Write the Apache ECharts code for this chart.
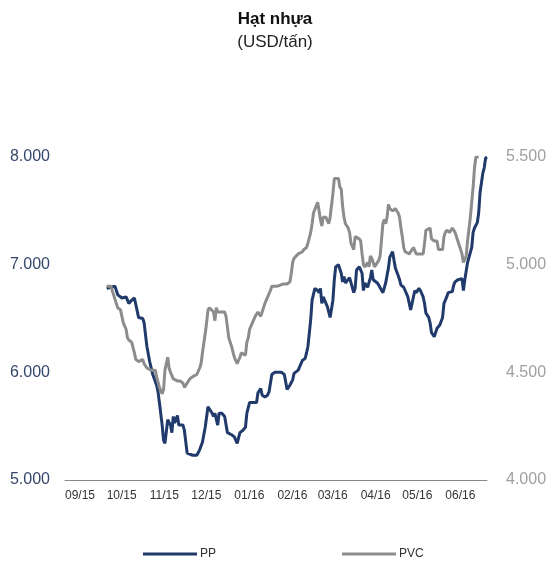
<!DOCTYPE html>
<html>
<head>
<meta charset="utf-8">
<script src="https://cdn.jsdelivr.net/npm/echarts@6/dist/echarts.min.js"></script>
<style>
html,body{margin:0;padding:0;background:#fff;}
#c{width:550px;height:565px;}
</style>
</head>
<body>
<div id="c"></div>
<script>
const titleText = 'Hạt nhựa';
const subText = '(USD/tấn)';
const seriesNames = ['PP', 'PVC'];
const leftTicks = [5000, 6000, 7000, 8000];
const rightTicks = [4000, 4500, 5000, 5500];
const axisStart = '2015-09-01';
const axisEnd = '2016-07-01';
const monthLabels = ['09/15','10/15','11/15','12/15','01/16','02/16','03/16','04/16','05/16','06/16'];

const ppDates = ['2015-10-01','2015-10-04','2015-10-07','2015-10-09','2015-10-12','2015-10-15','2015-10-17','2015-10-19','2015-10-21','2015-10-22','2015-10-24','2015-10-27','2015-10-28','2015-10-30','2015-11-01','2015-11-03','2015-11-06','2015-11-07','2015-11-08','2015-11-10','2015-11-11','2015-11-12','2015-11-14','2015-11-16','2015-11-17','2015-11-18','2015-11-19','2015-11-21','2015-11-22','2015-11-25','2015-11-26','2015-11-28','2015-12-02','2015-12-05','2015-12-07','2015-12-09','2015-12-11','2015-12-13','2015-12-16','2015-12-17','2015-12-18','2015-12-20','2015-12-21','2015-12-23','2015-12-25','2015-12-27','2015-12-30','2016-01-01','2016-01-03','2016-01-04','2016-01-05','2016-01-07','2016-01-09','2016-01-10','2016-01-12','2016-01-14','2016-01-17','2016-01-18','2016-01-20','2016-01-21','2016-01-23','2016-01-25','2016-01-26','2016-01-28','2016-01-30','2016-02-04','2016-02-06','2016-02-08','2016-02-10','2016-02-12','2016-02-13','2016-02-16','2016-02-17','2016-02-19','2016-02-21','2016-02-22','2016-02-23','2016-02-25','2016-02-26','2016-02-28','2016-03-01','2016-03-02','2016-03-03','2016-03-04','2016-03-05','2016-03-08','2016-03-10','2016-03-12','2016-03-13','2016-03-14','2016-03-16','2016-03-18','2016-03-19','2016-03-20','2016-03-21','2016-03-24','2016-03-27','2016-03-28','2016-03-29','2016-03-31','2016-04-01','2016-04-02','2016-04-03','2016-04-04','2016-04-06','2016-04-08','2016-04-09','2016-04-10','2016-04-13','2016-04-14','2016-04-17','2016-04-19','2016-04-21','2016-04-22','2016-04-24','2016-04-25','2016-04-26','2016-04-28','2016-04-29','2016-04-30','2016-05-02','2016-05-03','2016-05-05','2016-05-06','2016-05-07','2016-05-09','2016-05-10','2016-05-11','2016-05-13','2016-05-14','2016-05-15','2016-05-16','2016-05-17','2016-05-18','2016-05-20','2016-05-21','2016-05-22','2016-05-24','2016-05-25','2016-05-26','2016-05-28','2016-05-30','2016-05-31','2016-06-01','2016-06-02','2016-06-03','2016-06-06','2016-06-07','2016-06-08','2016-06-10','2016-06-13','2016-06-14','2016-06-15','2016-06-17','2016-06-20','2016-06-21','2016-06-22','2016-06-24','2016-06-25','2016-06-26','2016-06-28','2016-06-29','2016-06-30','2016-07-01'];
const ppValues = [6780,6790,6800,6720,6690,6700,6640,6670,6690,6630,6510,6500,6460,6240,6100,5990,5880,5820,5720,5510,5370,5340,5560,5510,5440,5590,5530,5600,5510,5510,5460,5250,5230,5230,5280,5350,5490,5680,5620,5590,5620,5510,5620,5620,5590,5440,5420,5400,5340,5330,5440,5460,5490,5620,5720,5720,5720,5810,5850,5790,5770,5790,5820,5980,6000,6000,5980,5840,5880,5930,5990,6020,6050,6110,6130,6180,6240,6490,6670,6780,6760,6740,6780,6640,6700,6610,6510,6670,6860,6980,7000,6920,6840,6890,6830,6880,6740,6780,6950,6980,6980,6920,6760,6830,6790,6880,6950,6860,6830,6810,6740,6830,6970,7070,7120,7040,6970,6900,6860,6810,6790,6760,6700,6640,6580,6700,6760,6740,6780,6760,6750,6700,6640,6550,6510,6460,6370,6330,6370,6410,6440,6510,6640,6650,6700,6740,6750,6810,6840,6860,6870,6760,6860,7020,7160,7300,7340,7390,7480,7670,7850,7900,7990,8000];

const pvcDates = ['2015-10-01','2015-10-04','2015-10-05','2015-10-08','2015-10-09','2015-10-11','2015-10-12','2015-10-13','2015-10-15','2015-10-16','2015-10-17','2015-10-19','2015-10-21','2015-10-22','2015-10-24','2015-10-27','2015-10-28','2015-10-30','2015-11-02','2015-11-05','2015-11-06','2015-11-08','2015-11-10','2015-11-11','2015-11-12','2015-11-14','2015-11-15','2015-11-16','2015-11-18','2015-11-21','2015-11-23','2015-11-25','2015-11-26','2015-11-28','2015-11-30','2015-12-02','2015-12-05','2015-12-07','2015-12-08','2015-12-09','2015-12-11','2015-12-12','2015-12-13','2015-12-14','2015-12-17','2015-12-18','2015-12-19','2015-12-20','2015-12-23','2015-12-25','2015-12-26','2015-12-27','2015-12-28','2015-12-30','2016-01-01','2016-01-03','2016-01-05','2016-01-06','2016-01-07','2016-01-09','2016-01-10','2016-01-11','2016-01-12','2016-01-14','2016-01-16','2016-01-18','2016-01-20','2016-01-21','2016-01-22','2016-01-23','2016-01-25','2016-01-27','2016-01-28','2016-02-01','2016-02-05','2016-02-06','2016-02-08','2016-02-10','2016-02-11','2016-02-12','2016-02-13','2016-02-16','2016-02-19','2016-02-20','2016-02-22','2016-02-23','2016-02-25','2016-02-26','2016-02-27','2016-03-01','2016-03-02','2016-03-03','2016-03-04','2016-03-05','2016-03-07','2016-03-08','2016-03-09','2016-03-10','2016-03-12','2016-03-13','2016-03-16','2016-03-17','2016-03-18','2016-03-19','2016-03-20','2016-03-21','2016-03-23','2016-03-24','2016-03-25','2016-03-27','2016-03-28','2016-03-31','2016-04-01','2016-04-02','2016-04-03','2016-04-04','2016-04-06','2016-04-07','2016-04-08','2016-04-09','2016-04-10','2016-04-11','2016-04-14','2016-04-15','2016-04-17','2016-04-18','2016-04-19','2016-04-20','2016-04-21','2016-04-22','2016-04-24','2016-04-26','2016-04-28','2016-04-29','2016-04-30','2016-05-01','2016-05-02','2016-05-03','2016-05-06','2016-05-09','2016-05-10','2016-05-11','2016-05-16','2016-05-17','2016-05-18','2016-05-21','2016-05-22','2016-05-24','2016-05-26','2016-05-27','2016-05-30','2016-05-31','2016-06-01','2016-06-02','2016-06-04','2016-06-06','2016-06-08','2016-06-10','2016-06-13','2016-06-14','2016-06-16','2016-06-17','2016-06-19','2016-06-21','2016-06-22','2016-06-23','2016-06-25'];
const pvcValues = [4900,4900,4880,4820,4800,4790,4760,4730,4700,4660,4650,4640,4590,4560,4550,4560,4540,4520,4510,4510,4480,4430,4400,4420,4510,4570,4520,4500,4470,4460,4460,4450,4430,4450,4470,4480,4490,4520,4540,4590,4680,4730,4790,4800,4780,4740,4800,4780,4780,4780,4760,4710,4660,4620,4570,4540,4570,4590,4590,4580,4640,4660,4700,4730,4760,4780,4760,4780,4800,4820,4850,4880,4900,4900,4910,4910,4910,4920,4960,5010,5030,5050,5060,5070,5080,5100,5150,5190,5240,5290,5250,5210,5180,5220,5220,5220,5190,5220,5330,5400,5400,5360,5350,5270,5220,5190,5170,5150,5100,5070,5130,5120,5110,5050,5000,4990,5010,4990,5040,5030,5010,4990,5020,5040,5190,5210,5190,5220,5280,5260,5250,5260,5240,5220,5170,5130,5080,5060,5050,5080,5080,5050,5050,5100,5160,5170,5120,5110,5110,5070,5070,5130,5150,5160,5150,5170,5150,5110,5050,5010,5040,5110,5220,5360,5450,5500,5500];

const ppColor = '#203a6b';
const pvcColor = '#8c8c8c';

function pair(dates, vals) { return dates.map((d, i) => [d, vals[i]]); }
function dotFmt(v) { return (v / 1000).toFixed(3); }
function pad(n) { return n < 10 ? '0' + n : '' + n; }

const chart = echarts.init(document.getElementById('c'));
chart.setOption({
  animation: false,
  backgroundColor: '#fff',
  title: {
    text: titleText,
    subtext: subText,
    left: 'center',
    top: 6,
    itemGap: 6,
    textStyle: { fontFamily: 'Liberation Sans', fontSize: 17, fontWeight: 'bold', color: '#111' },
    subtextStyle: { fontFamily: 'Liberation Sans', fontSize: 17, color: '#222' }
  },
  legend: {
    data: seriesNames,
    left: 138,
    top: 543,
    icon: 'rect',
    itemWidth: 54,
    itemHeight: 3,
    itemGap: 126,
    textStyle: { fontFamily: 'Liberation Sans', fontSize: 12, color: '#333', padding: [0, 0, 0, -2] }
  },
  grid: { left: 65, right: 63, top: 157, bottom: 85, containLabel: false },
  xAxis: {
    type: 'time',
    min: axisStart,
    max: axisEnd,
    splitNumber: 10,
    minInterval: 28 * 86400000,
    axisLine: { show: true, lineStyle: { color: '#888', width: 1 } },
    axisTick: { show: false },
    splitLine: { show: false },
    axisLabel: {
      align: 'left',
      margin: 10,
      fontFamily: 'Liberation Sans',
      fontSize: 12,
      color: '#333',
      formatter: function (v) {
        const d = new Date(v);
        const lab = pad(d.getMonth() + 1) + '/' + pad(d.getFullYear() % 100);
        return monthLabels.indexOf(lab) >= 0 ? lab : '';
      }
    }
  },
  yAxis: [
    {
      type: 'value',
      min: leftTicks[0],
      max: leftTicks[leftTicks.length - 1],
      interval: leftTicks[1] - leftTicks[0],
      axisLine: { show: false },
      axisTick: { show: false },
      splitLine: { show: false },
      axisLabel: { fontFamily: 'Liberation Sans', fontSize: 16, color: '#34476b', margin: 15, formatter: dotFmt }
    },
    {
      type: 'value',
      min: rightTicks[0],
      max: rightTicks[rightTicks.length - 1],
      interval: rightTicks[1] - rightTicks[0],
      axisLine: { show: false },
      axisTick: { show: false },
      splitLine: { show: false },
      axisLabel: { fontFamily: 'Liberation Sans', fontSize: 16, color: '#a0a0a0', margin: 19, formatter: dotFmt }
    }
  ],
  series: [
    {
      name: seriesNames[0], type: 'line', yAxisIndex: 0, showSymbol: false, symbol: 'none',
      lineStyle: { color: ppColor, width: 3 }, itemStyle: { color: ppColor },
      data: pair(ppDates, ppValues)
    },
    {
      name: seriesNames[1], type: 'line', yAxisIndex: 1, showSymbol: false, symbol: 'none',
      lineStyle: { color: pvcColor, width: 3 }, itemStyle: { color: pvcColor },
      data: pair(pvcDates, pvcValues)
    }
  ]
});
</script>
</body>
</html>
